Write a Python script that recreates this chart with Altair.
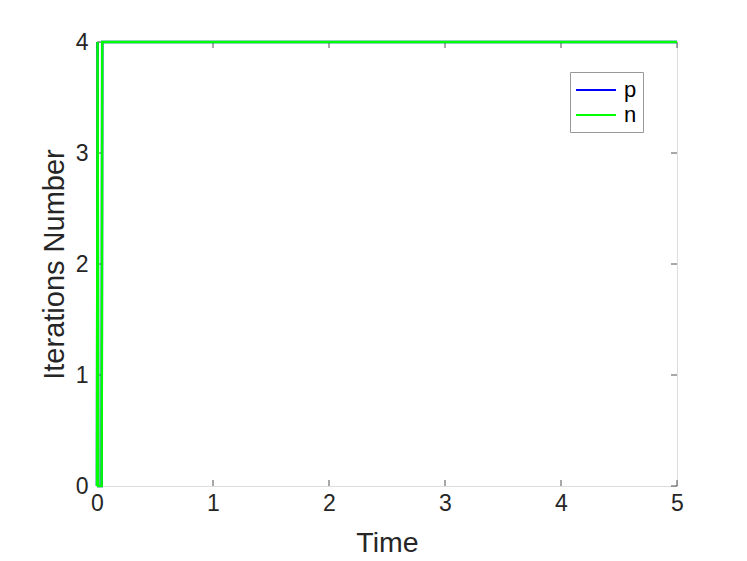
import altair as alt
import pandas as pd

# data
time_p = [0, 0.005, 0.01, 0.04, 0.045, 5]
iter_p = [0, 4, 0, 0, 4, 4]
time_n = [0, 0.005, 0.01, 0.04, 0.045, 5]
iter_n = [0, 4, 0, 0, 4, 4]
x_ticks = [0, 1, 2, 3, 4, 5]
y_ticks = [0, 1, 2, 3, 4]
series = ["p", "n"]
colors = ["#0000FF", "#00FF00"]

df = pd.concat([
    pd.DataFrame({"Time": time_p, "Iter": iter_p, "series": "p"}),
    pd.DataFrame({"Time": time_n, "Iter": iter_n, "series": "n"}),
])
W, H = 580, 444
FONT = "Liberation Sans"

xs = alt.Scale(domain=[0, 5], nice=False, zero=False)
ys = alt.Scale(domain=[0, 4], nice=False)
col = alt.Color("series:N", scale=alt.Scale(domain=series, range=colors),
                sort=series,
                legend=alt.Legend(title=None, orient="none", legendX=473, legendY=30,
                                  symbolType="M-1.818,0H1.818", symbolSize=484,
                                  symbolStrokeWidth=2, symbolOffset=8,
                                  labelFontSize=22, labelFont=FONT, labelColor="#000",
                                  strokeColor="#999", fillColor="white", padding=6,
                                  rowPadding=2, labelLimit=50, labelOffset=16))

def line(name):
    return alt.Chart(df).transform_filter(alt.datum.series == name).mark_line(
        strokeWidth=2.5, clip=False).encode(
        x=alt.X("Time:Q", scale=xs,
                axis=alt.Axis(values=x_ticks, ticks=False, domain=False, grid=False,
                              labelFontSize=23, labelFont=FONT, labelColor="#262626",
                              labelPadding=6, labelFlush=False, title="Time", titleFontSize=28.5,
                              titleFont=FONT, titleFontWeight="normal", titleColor="#262626",
                              titlePadding=13, format="d")),
        y=alt.Y("Iter:Q", scale=ys,
                axis=alt.Axis(values=y_ticks, ticks=False, domain=False, grid=False,
                              labelFontSize=23, labelFont=FONT, labelColor="#262626",
                              labelPadding=9, labelFlush=False, title="Iterations Number",
                              titleFontSize=29, titleFont=FONT, titleFontWeight="normal",
                              titleColor="#262626", titlePadding=6, format="d")),
        color=col,
    )

xt = pd.DataFrame({"v": x_ticks})
yt = pd.DataFrame({"v": y_ticks})
tick_style = dict(color="#262626", strokeWidth=0.8)
xb = alt.Chart(xt).mark_rule(**tick_style).encode(x=alt.X("v:Q", scale=xs), y=alt.value(H), y2=alt.value(H - 6))
xtp = alt.Chart(xt).mark_rule(**tick_style).encode(x=alt.X("v:Q", scale=xs), y=alt.value(0), y2=alt.value(6))
yl = alt.Chart(yt).mark_rule(**tick_style).encode(y=alt.Y("v:Q", scale=ys), x=alt.value(0), x2=alt.value(6))
yr = alt.Chart(yt).mark_rule(**tick_style).encode(y=alt.Y("v:Q", scale=ys), x=alt.value(W), x2=alt.value(W - 6))

chart = alt.layer(xb, xtp, yl, yr, line("p"), line("n")).properties(
    width=W, height=H,
    autosize=alt.AutoSizeParams(type="none"),
    padding={"left": 89, "top": 34, "right": 50, "bottom": 74},
).configure_view(stroke="#262626", strokeWidth=0.8).configure(background="white")

chart.save("out.html", embed_options={"renderer": "svg", "actions": False})
